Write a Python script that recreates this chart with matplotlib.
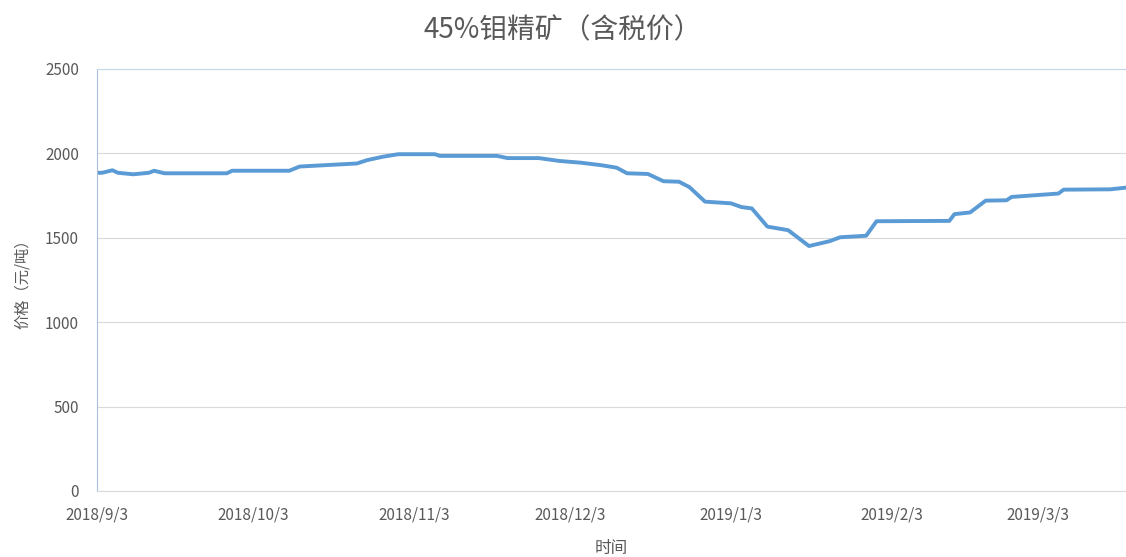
import matplotlib
matplotlib.use("Agg")
import matplotlib.pyplot as plt
import pandas as pd

plt.rcParams['font.family'] = ['Noto Sans CJK SC', 'DejaVu Sans']

# Данные: 45% молибденовый концентрат, цена с налогом (юань/тонна)
dates = ['2018-09-03', '2018-09-04', '2018-09-06', '2018-09-07', '2018-09-10',
         '2018-09-13', '2018-09-14', '2018-09-16', '2018-09-28', '2018-09-29',
         '2018-10-10', '2018-10-12', '2018-10-23', '2018-10-25', '2018-10-28',
         '2018-10-31', '2018-11-07', '2018-11-08', '2018-11-19', '2018-11-21',
         '2018-11-27', '2018-12-01', '2018-12-05', '2018-12-09', '2018-12-12',
         '2018-12-14', '2018-12-18', '2018-12-21', '2018-12-24', '2018-12-26',
         '2018-12-29', '2019-01-03', '2019-01-05', '2019-01-07', '2019-01-10',
         '2019-01-14', '2019-01-18', '2019-01-22', '2019-01-24', '2019-01-29',
         '2019-01-31', '2019-02-14', '2019-02-15', '2019-02-18', '2019-02-21',
         '2019-02-25', '2019-02-26', '2019-03-07', '2019-03-08', '2019-03-17',
         '2019-03-20']
prices = [1885, 1885, 1900, 1885, 1876,
          1885, 1897, 1882, 1882, 1897,
          1897, 1922, 1940, 1960, 1980,
          1995, 1995, 1985, 1985, 1972,
          1972, 1955, 1945, 1930, 1915,
          1882, 1878, 1835, 1832, 1800,
          1714, 1704, 1682, 1674, 1566,
          1545, 1451, 1480, 1503, 1512,
          1598, 1600, 1640, 1650, 1720,
          1722, 1742, 1762, 1785, 1787,
          1797]

tick_dates = ['2018-09-03', '2018-10-03', '2018-11-03', '2018-12-03',
              '2019-01-03', '2019-02-03', '2019-03-03']
tick_labels = ['2018/9/3', '2018/10/3', '2018/11/3', '2018/12/3',
               '2019/1/3', '2019/2/3', '2019/3/3']
y_ticks = [0, 500, 1000, 1500, 2000, 2500]

x = pd.to_datetime(dates)

fig = plt.figure(figsize=(11.26, 5.57), dpi=100)
ax = fig.add_axes([0.0861, 0.1185, 0.9139, 0.7577])

ax.plot(x, prices, color='#5B9BD5', linewidth=2.8, solid_joinstyle='round')

ax.set_xlim(pd.Timestamp('2018-09-03'), pd.Timestamp('2019-03-20'))
ax.set_ylim(0, 2500)
ax.set_yticks(y_ticks)
ax.set_xticks(pd.to_datetime(tick_dates))
ax.set_xticklabels(tick_labels)

ax.grid(axis='y', color='#D9D9D9', linewidth=0.8)
ax.set_axisbelow(True)
ax.spines['right'].set_visible(False)
ax.spines['left'].set_color('#A9BFDB')
ax.spines['top'].set_color('#C5D5EA')
ax.spines['bottom'].set_color('#D9D9D9')
ax.tick_params(length=0, labelsize=11, colors='#595959')
ax.tick_params(axis='x', pad=11)
ax.tick_params(axis='y', pad=13)

# заголовок по центру фигуры, как в Excel
fig.text(0.5, 1 - 30 / 557, '45%钼精矿（含税价）', fontsize=20, color='#595959',
         ha='center', va='center')
ax.set_xlabel('时间', fontsize=12, color='#595959', labelpad=12)
ax.set_ylabel('价格（元/吨）', fontsize=11, color='#595959', labelpad=10)

fig.savefig('out.png', dpi=100)
